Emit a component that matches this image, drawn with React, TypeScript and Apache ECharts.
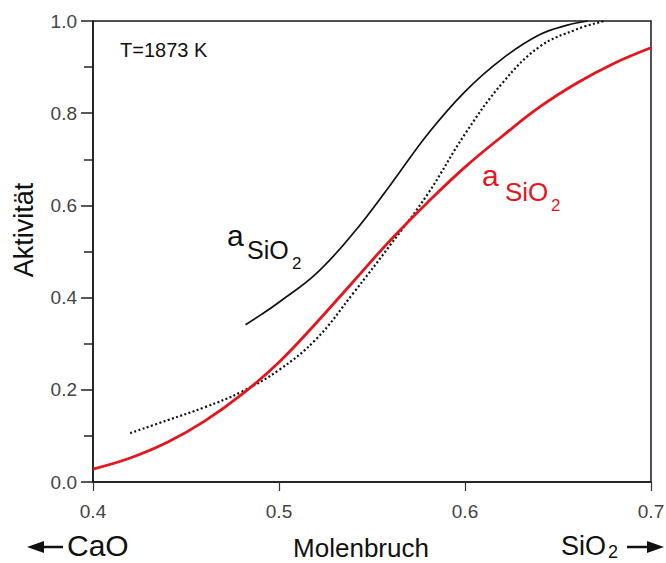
import React, { useEffect, useRef } from "react";
import * as echarts from "echarts";

// Molenbruch (x) vs. Aktivität (y) for the CaO–SiO2 system at 1873 K
const blackSolid: [number, number][] = [
  [0.482, 0.341], [0.49, 0.362], [0.5, 0.39], [0.52, 0.452], [0.54, 0.54],
  [0.56, 0.645], [0.58, 0.755], [0.6, 0.847], [0.62, 0.918], [0.64, 0.97],
  [0.655, 0.991], [0.666, 1.0],
];

const blackDotted: [number, number][] = [
  [0.42, 0.106], [0.44, 0.134], [0.46, 0.162], [0.48, 0.196], [0.5, 0.243],
  [0.52, 0.31], [0.54, 0.41], [0.56, 0.515], [0.58, 0.625], [0.6, 0.755],
  [0.62, 0.865], [0.64, 0.944], [0.66, 0.982], [0.675, 1.0],
];

const redSolid: [number, number][] = [
  [0.4, 0.028], [0.42, 0.052], [0.44, 0.086], [0.46, 0.132], [0.48, 0.19],
  [0.5, 0.26], [0.52, 0.345], [0.54, 0.435], [0.56, 0.525], [0.58, 0.607],
  [0.6, 0.683], [0.62, 0.75], [0.64, 0.813], [0.66, 0.865], [0.68, 0.908],
  [0.7, 0.942],
];

const FONT = "'Liberation Sans', Arial, Helvetica, sans-serif";
const RED = "#e3161d";

export default function App() {
  const ref = useRef<HTMLDivElement>(null);

  useEffect(() => {
    if (!ref.current) return;
    const chart = echarts.init(ref.current, undefined, { renderer: "svg" });

    const txt = (x: number, y: number, text: string, size: number, color = "#111", extra: any = {}) => ({
      type: "text",
      x,
      y,
      style: { text, fill: color, font: `${size}px ${FONT}`, verticalAlign: "middle", align: "left", ...extra },
    });

    chart.setOption({
      animation: false,
      backgroundColor: "#fff",
      grid: {
        left: 93, right: 15, top: 21, bottom: 81,
        outerBoundsMode: "none",
        containLabel: false,
        show: true, borderColor: "#1a1a1a", borderWidth: 1.5, backgroundColor: "transparent",
      },
      xAxis: {
        type: "value", min: 0.4, max: 0.7, interval: 0.1,
        axisLine: { show: true, lineStyle: { color: "#1a1a1a", width: 1.5 } },
        axisTick: { show: true, inside: false, length: 9, lineStyle: { color: "#333", width: 1.2 } },
        splitLine: { show: false },
        axisLabel: {
          margin: 20, color: "#444", fontSize: 19, fontFamily: FONT,
          formatter: (v: number) => v.toFixed(1),
        },
      },
      yAxis: {
        type: "value", min: 0, max: 1, interval: 0.2,
        axisLine: { show: true, lineStyle: { color: "#1a1a1a", width: 1.5 } },
        axisTick: { show: true, inside: false, length: 12, lineStyle: { color: "#222", width: 1.5 } },
        minorTick: { show: true, splitNumber: 2, length: 9, lineStyle: { color: "#222", width: 1.5 } },
        splitLine: { show: false },
        minorSplitLine: { show: false },
        axisLabel: {
          margin: 16, color: "#444", fontSize: 19, fontFamily: FONT,
          formatter: (v: number) => v.toFixed(1),
        },
      },
      series: [
        {
          type: "line", data: blackSolid, smooth: 0.4, symbol: "none",
          lineStyle: { color: "#111", width: 1.7 },
        },
        {
          type: "line", data: blackDotted, smooth: 0.4, symbol: "none",
          lineStyle: { color: "#111", width: 2.2, type: [2, 2.4] },
        },
        {
          type: "line", data: redSolid, smooth: 0.4, symbol: "none",
          lineStyle: { color: RED, width: 2.8 },
        },
      ],
      graphic: [
        txt(120, 50, "T=1873 K", 20),
        // y axis title
        {
          type: "text", x: 24, y: 230, rotation: Math.PI / 2,
          style: { text: "Aktivität", fill: "#111", font: `27px ${FONT}`, align: "center", verticalAlign: "middle" },
        },
        // black curve label
        txt(227, 235, "a", 30),
        txt(247, 250, "SiO", 25),
        txt(292, 263, "2", 17),
        // red curve label
        txt(482, 175, "a", 30, RED),
        txt(505, 192, "SiO", 26, RED),
        txt(551, 205, "2", 17, RED),
        // x axis title
        { type: "text", x: 361, y: 548, style: { text: "Molenbruch", fill: "#111", font: `26px ${FONT}`, align: "center", verticalAlign: "middle" } },
        // CaO arrow
        { type: "line", shape: { x1: 40, y1: 547, x2: 63, y2: 547 }, style: { stroke: "#111", lineWidth: 2.5 } },
        { type: "polygon", shape: { points: [[27, 547], [44, 541], [44, 553]] }, style: { fill: "#111" } },
        txt(67, 545, "CaO", 30),
        // SiO2 arrow
        txt(561, 546, "SiO", 27),
        txt(608, 552, "2", 18),
        { type: "line", shape: { x1: 627, y1: 547, x2: 650, y2: 547 }, style: { stroke: "#111", lineWidth: 2.5 } },
        { type: "polygon", shape: { points: [[664, 547], [647, 541], [647, 553]] }, style: { fill: "#111" } },
      ],
    });

    return () => chart.dispose();
  }, []);

  return <div ref={ref} style={{ width: 666, height: 563, position: "absolute", left: 0, top: 0 }} />;
}
